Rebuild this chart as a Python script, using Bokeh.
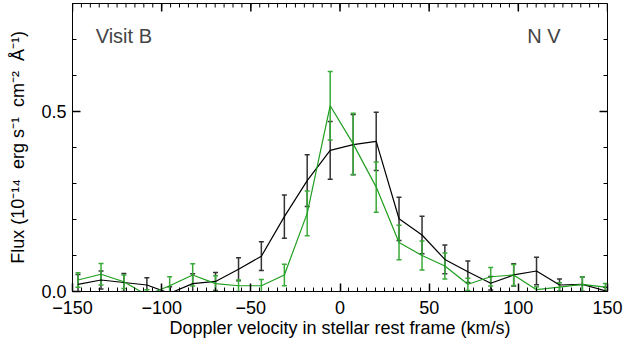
import math
from bokeh.plotting import figure
from bokeh.models import (ColumnDataSource, Whisker, TeeHead,
                          SingleIntervalTicker, Range1d, Label, PrintfTickFormatter)
from bokeh.embed import file_html
from bokeh.resources import INLINE

# Doppler velocity bins (km/s)
velocity = [-146.9, -134.0, -121.2, -108.3, -95.5, -82.6, -69.8, -56.9, -44.1, -31.2,
            -18.4, -5.5, 7.4, 20.3, 33.1, 46.0, 58.8, 71.7, 84.5, 97.4,
            110.2, 123.1, 135.9, 148.8]

# Flux, first series (black)
flux_black = [0.020, 0.032, 0.025, 0.018, -0.005, 0.022, 0.028, 0.062, 0.098, 0.208,
              0.308, 0.392, 0.408, 0.417, 0.202, 0.157, 0.089, 0.055, 0.023, 0.046,
              0.057, 0.018, 0.020, 0.002]
err_black = [0.027, 0.025, 0.025, 0.020, 0.018, 0.027, 0.025, 0.032, 0.040, 0.060,
             0.072, 0.080, 0.084, 0.081, 0.060, 0.052, 0.040, 0.030, 0.019, 0.031,
             0.038, 0.017, 0.020, 0.010]

# Flux, second series (green)
flux_green = [0.032, 0.048, 0.027, -0.010, 0.016, 0.046, 0.022, 0.016, 0.016, 0.046,
              0.217, 0.516, 0.410, 0.290, 0.136, 0.100, 0.071, 0.020, 0.041, 0.046,
              0.005, 0.012, 0.020, 0.012]
err_green = [0.020, 0.030, 0.019, 0.015, 0.025, 0.031, 0.022, 0.016, 0.017, 0.030,
             0.062, 0.095, 0.085, 0.070, 0.048, 0.040, 0.036, 0.017, 0.026, 0.029,
             0.008, 0.012, 0.020, 0.010]

# ticks
x_major_ticks = [-150, -100, -50, 0, 50, 100, 150]
x_minor_step = 5
y_major_ticks = [0.0, 0.5]
y_minor_step = 0.1
x_tick_labels = {-150: "\u2212150", -100: "\u2212100", -50: "\u221250", 0: "0",
                 50: "50", 100: "100", 150: "150"}

X_MIN, X_MAX = -150, 150
Y_MIN, Y_MAX = 0.0, 0.8

FONT = "Liberation Sans"

p = figure(width=626, height=346, output_backend="svg", toolbar_location=None,
           x_range=Range1d(X_MIN, X_MAX), y_range=Range1d(Y_MIN, Y_MAX),
           min_border_left=72, min_border_right=19, min_border_top=3,
           min_border_bottom=55)
p.xgrid.visible = False
p.ygrid.visible = False
p.outline_line_color = "black"
p.outline_line_width = 1
p.background_fill_color = "white"
p.border_fill_color = "white"

xt = SingleIntervalTicker(interval=50, num_minor_ticks=10)
yt = SingleIntervalTicker(interval=0.5, num_minor_ticks=5)


def style_axis(ax):
    ax.axis_line_color = "black"
    ax.axis_line_width = 1
    ax.major_tick_in = 8
    ax.major_tick_out = 0
    ax.minor_tick_in = 4
    ax.minor_tick_out = 0
    ax.major_tick_line_color = "black"
    ax.minor_tick_line_color = "black"
    ax.major_tick_line_width = 1.5
    ax.major_label_text_font = FONT
    ax.major_label_text_color = "black"
    ax.major_label_text_font_size = "18px"
    ax.axis_label_text_font = FONT
    ax.axis_label_text_font_style = "normal"
    ax.axis_label_text_color = "black"
    ax.axis_label_text_font_size = "18px"


xa = p.xaxis[0]
xa.ticker = xt
style_axis(xa)
xa.major_label_overrides = x_tick_labels
xa.major_label_standoff = 9
xa.axis_label = "Doppler velocity in stellar rest frame (km/s)"
xa.axis_label_standoff = 1

ya = p.yaxis[0]
ya.ticker = yt
style_axis(ya)
ya.formatter = PrintfTickFormatter(format="%.1f")
ya.major_label_standoff = 6
NB = "\u00a0"
ya.axis_label = ("Flux" + NB + "(10\u207b\u00b9\u2074" + NB + NB + "erg" + NB + "s\u207b\u00b9"
                 + NB + NB + "cm\u207b\u00b2" + NB + NB + "\u00c5\u207b\u00b9)")
ya.axis_label_text_font_size = "18px"
ya.axis_label_standoff = 10

# mirrored inward ticks on top and right edges (screen-length rays)
n_xminor = int(round((X_MAX - X_MIN) / x_minor_step))
top_minor = [X_MIN + i * x_minor_step for i in range(n_xminor + 1)]
n_yminor = int(round((Y_MAX - Y_MIN) / y_minor_step))
right_minor = [Y_MIN + i * y_minor_step for i in range(n_yminor + 1)]

p.ray(x=top_minor, y=[Y_MAX] * len(top_minor), length=4, length_units="screen",
      angle=-math.pi / 2, line_color="black", line_width=1)
p.ray(x=x_major_ticks, y=[Y_MAX] * len(x_major_ticks), length=8, length_units="screen",
      angle=-math.pi / 2, line_color="black", line_width=1.5)
p.ray(x=[X_MAX] * len(right_minor), y=right_minor, length=4, length_units="screen",
      angle=math.pi, line_color="black", line_width=1)
p.ray(x=[X_MAX] * len(y_major_ticks), y=y_major_ticks, length=8, length_units="screen",
      angle=math.pi, line_color="black", line_width=1.5)

black_col = "black"
green_col = "#1f9e1f"

src_b = ColumnDataSource(dict(x=velocity, y=flux_black,
                              lo=[f - e for f, e in zip(flux_black, err_black)],
                              hi=[f + e for f, e in zip(flux_black, err_black)]))
src_g = ColumnDataSource(dict(x=velocity, y=flux_green,
                              lo=[f - e for f, e in zip(flux_green, err_green)],
                              hi=[f + e for f, e in zip(flux_green, err_green)]))

wb = Whisker(source=src_b, base="x", upper="hi", lower="lo", dimension="height",
             line_color="#333333", line_width=1.5,
             upper_head=TeeHead(size=5, line_color="#333333", line_width=1.5),
             lower_head=TeeHead(size=5, line_color="#333333", line_width=1.5))
p.add_layout(wb)
p.line("x", "y", source=src_b, line_color=black_col, line_width=1.2)

wg = Whisker(source=src_g, base="x", upper="hi", lower="lo", dimension="height",
             line_color="#3aaa3a", line_width=1.5,
             upper_head=TeeHead(size=5, line_color="#3aaa3a", line_width=1.5),
             lower_head=TeeHead(size=5, line_color="#3aaa3a", line_width=1.5))
p.add_layout(wg)
p.line("x", "y", source=src_g, line_color=green_col, line_width=1.2)

p.add_layout(Label(x=-137, y=0.68, text="Visit B", text_font=FONT,
                   text_font_size="20px", text_color="#444444"))
p.add_layout(Label(x=105, y=0.68, text="N V", text_font=FONT,
                   text_font_size="20px", text_color="#444444"))

open("out.html", "w").write(file_html(p, INLINE))
